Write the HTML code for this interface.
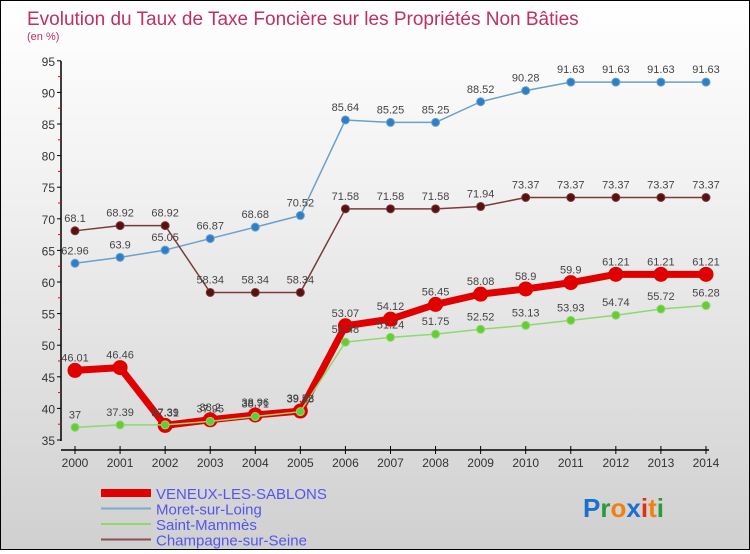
<!DOCTYPE html>
<html><head><meta charset="utf-8"><style>
body{margin:0;width:750px;height:550px;overflow:hidden;font-family:"Liberation Sans",sans-serif}
#wrap{position:absolute;left:0;top:0;width:748px;height:548px;border:1px solid #000;background:linear-gradient(#fff,#f3f3f3 30%,#d0d0d0)}
</style></head><body>
<div id="wrap">
<svg id="svg" width="748" height="548" xmlns="http://www.w3.org/2000/svg"></svg>
</div>
<script>
const years=[2000,2001,2002,2003,2004,2005,2006,2007,2008,2009,2010,2011,2012,2013,2014];
const yTicks=[35,40,45,50,55,60,65,70,75,80,85,90,95];
const veneux=[46.01,46.46,37.31,38.2,38.96,39.58,53.07,54.12,56.45,58.08,58.9,59.9,61.21,61.21,61.21];
const moret=[62.96,63.9,65.05,66.87,68.68,70.52,85.64,85.25,85.25,88.52,90.28,91.63,91.63,91.63,91.63];
const mammes=[37,37.39,37.39,37.95,38.71,39.48,50.48,51.24,51.75,52.52,53.13,53.93,54.74,55.72,56.28];
const champagne=[68.1,68.92,68.92,58.34,58.34,58.34,71.58,71.58,71.58,71.94,73.37,73.37,73.37,73.37,73.37];
const svg=document.getElementById('svg');const NS='http://www.w3.org/2000/svg';
const x=i=>74+i*45.07, y=v=>439-(v-35)*6.32;
function el(t,a,p){const e=document.createElementNS(NS,t);for(const k in a)e.setAttribute(k,a[k]);(p||svg).appendChild(e);return e;}
function txt(s,a){const e=el('text',a);e.textContent=s;return e;}
let t=txt('Evolution du Taux de Taxe Foncière sur les Propriétés Non Bâties',{x:26,y:24,fill:'#c03060','font-size':19});

t=txt('(en %)',{x:26,y:39,fill:'#c03060','font-size':11});

// axes
let a=el('line',{x1:60,y1:60,x2:60,y2:440,stroke:'#000','stroke-width':1.5});

a=el('line',{x1:60,y1:449,x2:708,y2:449,stroke:'#000','stroke-width':1.5});

yTicks.forEach(v=>{el('line',{x1:56,y1:y(v),x2:60,y2:y(v),stroke:'#000'});
el('line',{x1:57,y1:y(v+2.5),x2:60,y2:y(v+2.5),stroke:v<95?'#e00':'none'});
const l=txt(v,{x:54,y:y(v)+5,'text-anchor':'end','font-size':12,fill:'#333'});
});
years.forEach((yr,i)=>{el('line',{x1:x(i),y1:445,x2:x(i),y2:453,stroke:'#000'});
const l=txt(yr,{x:x(i),y:466,'text-anchor':'middle','font-size':12,fill:'#333'});
});
function series(d,color,fill,w,r,name){
const g=el('g',{});
el('polyline',{points:d.map((v,i)=>x(i)+','+y(v)).join(' '),fill:'none',stroke:color,'stroke-width':w,'stroke-linejoin':'round'},g);
d.forEach((v,i)=>{const c=el('circle',{cx:x(i),cy:y(v),r:r,fill:fill,stroke:color,'stroke-width':1},g);

const l=el('text',{x:x(i),y:y(v)-9,'text-anchor':'middle','font-size':11,fill:'#444'},g);l.textContent=v;});}
series(moret,'#6aa0cc','#2e7fc8',1.5,4,'series-moret');
series(champagne,'#7a3a3a','#5a1010',1.5,4,'series-champagne');
series(veneux,'#e00000','#e00000',7,7,'series-veneux');
series(mammes,'#8fd870','#66cc33',1.5,4,'series-mammes');
const leg=[['VENEUX-LES-SABLONS','#e00000',8],['Moret-sur-Loing','#7aaccc',2],['Saint-Mammès','#8fd870',2],['Champagne-sur-Seine','#8a5050',2]];
leg.forEach((e,i)=>{const yy=492+i*15.5;const g=el('g',{});
el('line',{x1:100,y1:yy,x2:150,y2:yy,stroke:e[1],'stroke-width':e[2]},g);
const l=el('text',{x:155,y:yy+6,'font-size':15,fill:'#5555ee'},g);l.textContent=e[0];});
const logo=txt('',{x:582,y:516,'font-size':26,'font-weight':'bold'});

[['P','#1a6fd0'],['r','#2a9a3a'],['o','#f08010'],['x','#1a6fd0'],['i','#e03010'],['t','#f08010'],['i','#2a9a3a']].forEach(c=>{const s=el('tspan',{fill:c[1]},logo);s.textContent=c[0];});
</script>
</body></html>
